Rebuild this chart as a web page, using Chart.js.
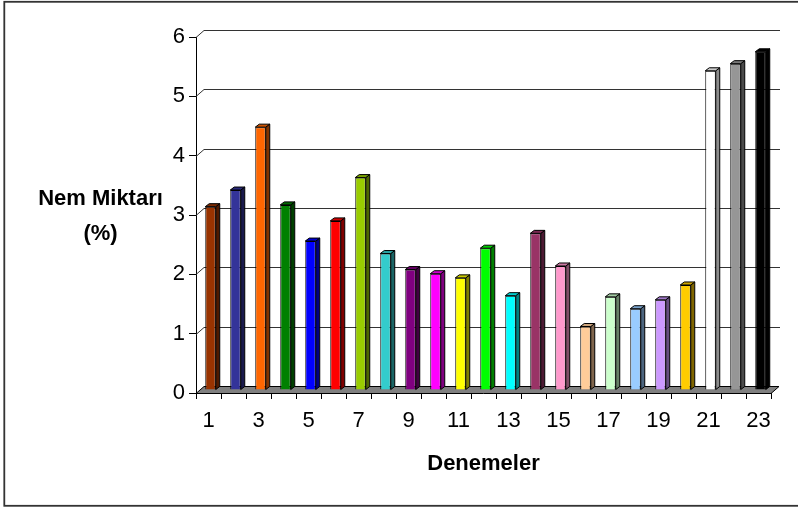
<!DOCTYPE html>
<html>
<head>
<meta charset="utf-8">
<script src="https://cdn.jsdelivr.net/npm/chart.js@4/dist/chart.umd.min.js"></script>
<style>
  html, body { margin: 0; padding: 0; background: #fff; }
  #wrap { width: 798px; height: 507px; }
  canvas { display: block; }
</style>
</head>
<body>
<div id="wrap"><canvas id="chart" width="798" height="507"></canvas></div>
<script>
// Trial numbers along the x axis
const categories = ['1','2','3','4','5','6','7','8','9','10','11','12',
                    '13','14','15','16','17','18','19','20','21','22','23'];

// Moisture content (%) of each trial
const moisture = [3.09, 3.37, 4.43, 3.12, 2.51, 2.85, 3.58, 2.30, 2.03, 1.96, 1.89, 2.39,
                  1.59, 2.64, 2.09, 1.07, 1.57, 1.37, 1.52, 1.77, 5.38, 5.50, 5.70];

// One fill per column
const barColors = ['#993300','#333399','#FF6600','#008000','#0000FF','#FF0000','#99CC00',
                   '#33CCCC','#800080','#FF00FF','#FFFF00','#00FF00','#00FFFF','#993366',
                   '#FF99CC','#FFCC99','#CCFFCC','#99CCFF','#CC99FF','#FFCC00','#FFFFFF',
                   '#969696','#000000'];

// Value axis range
const yMin = 0;
const yMax = 6;
const yStep = 1;

const xTitle = 'Denemeler';
const yTitleLines = ['Nem Miktarı', '(%)'];

const FONT = '"Liberation Sans", Arial, sans-serif';

// Perspective offsets of the pseudo 3-D look
const WALL = { dx: 8, dy: -7 };   // front plane -> back wall
const BAR_SHIFT = { dx: 2, dy: -3 }; // columns sit a little behind the front plane
const BAR_DEPTH = { dx: 4, dy: -3 }; // thickness of each column

function shade(hex, f) {
  const n = parseInt(hex.slice(1), 16);
  const r = Math.round(((n >> 16) & 255) * f);
  const g = Math.round(((n >> 8) & 255) * f);
  const b = Math.round((n & 255) * f);
  return `rgb(${r},${g},${b})`;
}

const wall3d = {
  id: 'wall3d',
  beforeDatasetsDraw(chart) {
    const { ctx, chartArea: a, scales: { y } } = chart;
    ctx.save();
    ctx.lineWidth = 1;

    // back wall gridlines with their diagonal connectors to the front axis
    ctx.strokeStyle = '#333';
    y.ticks.forEach(t => {
      if (t.value <= yMin) return;
      const py = Math.round(y.getPixelForValue(t.value)) + 0.5;
      ctx.beginPath();
      ctx.moveTo(a.left, py);
      ctx.lineTo(a.left + WALL.dx, py + WALL.dy);
      ctx.lineTo(a.right + WALL.dx + 1, py + WALL.dy);
      ctx.stroke();
    });

    // floor
    const fy = Math.round(y.getPixelForValue(yMin)) + 0.5;
    ctx.beginPath();
    ctx.moveTo(a.left, fy);
    ctx.lineTo(a.right, fy);
    ctx.lineTo(a.right + WALL.dx, fy + WALL.dy);
    ctx.lineTo(a.left + WALL.dx, fy + WALL.dy);
    ctx.closePath();
    ctx.fillStyle = '#808080';
    ctx.fill();
    ctx.strokeStyle = '#000';
    ctx.stroke();
    ctx.restore();

    ctx.save();
    ctx.translate(BAR_SHIFT.dx, BAR_SHIFT.dy);
  },
  afterDatasetsDraw(chart) {
    const { ctx } = chart;
    const meta = chart.getDatasetMeta(0);
    ctx.lineWidth = 1;
    ctx.strokeStyle = '#000';
    meta.data.forEach((bar, i) => {
      const { x, y, base, width } = bar.getProps(['x', 'y', 'base', 'width'], true);
      const l = x - width / 2, r = x + width / 2;
      const c = barColors[i];
      // side face
      ctx.beginPath();
      ctx.moveTo(r, y);
      ctx.lineTo(r + BAR_DEPTH.dx, y + BAR_DEPTH.dy);
      ctx.lineTo(r + BAR_DEPTH.dx, base + BAR_DEPTH.dy);
      ctx.lineTo(r, base);
      ctx.closePath();
      ctx.fillStyle = shade(c === '#FFFFFF' ? '#FFFFFF' : c, c === '#FFFFFF' ? 0.55 : 0.5);
      ctx.fill();
      ctx.stroke();
      // top face
      ctx.beginPath();
      ctx.moveTo(l, y);
      ctx.lineTo(l + BAR_DEPTH.dx, y + BAR_DEPTH.dy);
      ctx.lineTo(r + BAR_DEPTH.dx, y + BAR_DEPTH.dy);
      ctx.lineTo(r, y);
      ctx.closePath();
      ctx.fillStyle = shade(c, 0.8);
      ctx.fill();
      ctx.stroke();
    });
    ctx.restore();
  },
  afterDraw(chart) {
    const { ctx } = chart;
    ctx.save();
    // value axis caption, written horizontally on two lines
    ctx.fillStyle = '#000';
    ctx.font = `bold 22px ${FONT}`;
    ctx.textAlign = 'center';
    ctx.textBaseline = 'middle';
    ctx.fillText(yTitleLines[0], 100.5, 199);
    ctx.fillText(yTitleLines[1], 100.5, 234);
    // chart frame
    ctx.strokeStyle = '#333';
    ctx.lineWidth = 1.8;
    ctx.strokeRect(4.3, 1.8, 820, 504);
    ctx.restore();
  }
};

new Chart(document.getElementById('chart'), {
  type: 'bar',
  data: {
    labels: categories,
    datasets: [{
      data: moisture,
      backgroundColor: barColors,
      borderColor: '#000',
      borderWidth: 1,
      barPercentage: 0.42,
      categoryPercentage: 1,
      clip: false
    }]
  },
  options: {
    responsive: false,
    animation: false,
    devicePixelRatio: 1,
    layout: { padding: { left: 0, right: 27, top: 37, bottom: 0 } },
    plugins: { legend: { display: false }, tooltip: { enabled: false } },
    scales: {
      x: {
        offset: true,
        grid: { offset: true, drawOnChartArea: false, color: '#000', tickLength: 6 },
        border: { display: false },
        ticks: {
          autoSkip: false,
          maxRotation: 0,
          padding: 9,
          color: '#000',
          font: { family: FONT, size: 22 },
          callback: (v, i) => (i % 2 === 0 ? categories[i] : '')
        },
        title: {
          display: true,
          text: xTitle,
          color: '#000',
          font: { family: FONT, size: 22, weight: 'bold' },
          padding: { top: 0, bottom: 30 }
        },
        afterFit: s => { s.height = 114; }
      },
      y: {
        min: yMin,
        max: yMax,
        grid: { drawOnChartArea: false, color: '#000', tickLength: 7 },
        border: { color: '#000' },
        ticks: {
          stepSize: yStep,
          padding: 4,
          color: '#000',
          font: { family: FONT, size: 22 }
        },
        afterFit: s => { s.width = 196; }
      }
    }
  },
  plugins: [wall3d]
});
</script>
</body>
</html>
